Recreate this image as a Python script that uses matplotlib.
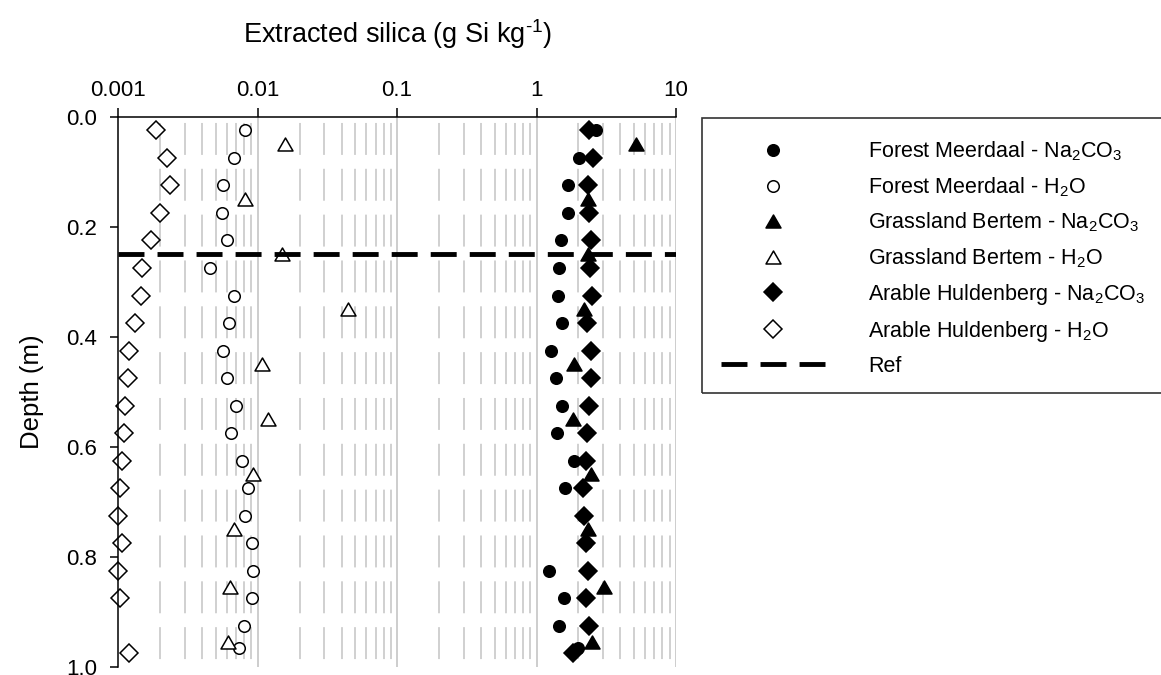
import matplotlib
matplotlib.use('Agg')
import matplotlib.pyplot as plt
from matplotlib.path import Path
from matplotlib.patches import Rectangle
from matplotlib.ticker import NullLocator

plt.rcParams['font.family'] = ['Liberation Sans', 'DejaVu Sans']
plt.rcParams['mathtext.fontset'] = 'custom'
plt.rcParams['mathtext.rm'] = 'Liberation Sans'
plt.rcParams['mathtext.it'] = 'Liberation Sans:italic'
plt.rcParams['mathtext.default'] = 'regular'
plt.rcParams['lines.scale_dashes'] = False

# ---------------- data ----------------
depth_forest = [0.025, 0.075, 0.125, 0.175, 0.225, 0.275, 0.325, 0.375, 0.425, 0.475,
                0.525, 0.575, 0.625, 0.675, 0.725, 0.775, 0.825, 0.875, 0.925, 0.965]
forest_na = [2.67, 2.03, 1.67, 1.67, 1.50, 1.44, 1.42, 1.52, 1.27, 1.38,
             1.52, 1.40, 1.87, 1.61, 2.15, 2.25, 1.22, 1.585, 1.46, 1.97]
forest_h2o = [0.0081, 0.00677, 0.00567, 0.00552, 0.0060, 0.00456, 0.0068, 0.00626, 0.00567, 0.00606,
              0.0070, 0.0064, 0.00776, 0.00848, 0.0081, 0.00915, 0.0093, 0.00915, 0.0080, 0.0074]

depth_grass = [0.05, 0.15, 0.25, 0.35, 0.45, 0.55, 0.65, 0.75, 0.855, 0.955]
grass_na = [5.16, 2.33, 2.33, 2.18, 1.87, 1.82, 2.46, 2.33, 3.03, 2.48]
grass_h2o = [0.0157, 0.0081, 0.0149, 0.0443, 0.0107, 0.0119, 0.0093, 0.0068, 0.00634, 0.00616]

depth_arable = [0.025, 0.075, 0.125, 0.175, 0.225, 0.275, 0.325, 0.375, 0.425, 0.475,
                0.525, 0.575, 0.625, 0.675, 0.725, 0.775, 0.825, 0.875, 0.925, 0.975]
arable_na = [2.39, 2.53, 2.33, 2.36, 2.46, 2.42, 2.50, 2.29, 2.46, 2.46,
             2.36, 2.29, 2.26, 2.14, 2.20, 2.26, 2.33, 2.26, 2.36, 1.84]
depth_arable_h2o = [0.025, 0.075, 0.125, 0.175, 0.225, 0.275, 0.325, 0.375, 0.425, 0.475,
                    0.525, 0.575, 0.625, 0.675, 0.725, 0.775, 0.825, 0.875, 0.975]
arable_h2o = [0.00187, 0.00225, 0.00236, 0.0020, 0.00171, 0.00148, 0.00145, 0.00131, 0.00119, 0.00117,
              0.00112, 0.0011, 0.00106, 0.00103, 0.0010, 0.00106, 0.00099, 0.00102, 0.0012]

ref_depth = 0.25

x_ticks = [0.001, 0.01, 0.1, 1, 10]
x_tick_labels = ['0.001', '0.01', '0.1', '1', '10']
y_ticks = [0.0, 0.2, 0.4, 0.6, 0.8, 1.0]
y_tick_labels = ['0.0', '0.2', '0.4', '0.6', '0.8', '1.0']

labels = ['Forest Meerdaal - Na$_2$CO$_3$', 'Forest Meerdaal - H$_2$O',
          'Grassland Bertem - Na$_2$CO$_3$', 'Grassland Bertem - H$_2$O',
          'Arable Huldenberg - Na$_2$CO$_3$', 'Arable Huldenberg - H$_2$O', 'Ref']

# ---------------- figure ----------------
fig = plt.figure(figsize=(11.61, 6.75), dpi=100)
ax = fig.add_axes([0.1019, 0.01185, 0.4803, 0.8153])
ax.set_xscale('log')
ax.set_xlim(0.001, 10)
ax.set_ylim(1.0, 0.0)

# grid lines
major_grid = [0.01, 0.1, 1, 10]
minor_grid = [k * 10.0 ** e for e in range(-3, 1) for k in range(2, 10)]
ax.vlines(major_grid, 0, 1, colors='#c0c0c0', lw=1.1, zorder=0)
ax.vlines(minor_grid, 0, 1, colors='#c4c4c4', lw=1.1, zorder=0,
          linestyles=[(28.7, (23.0, 10.0))])

tri = Path([(0, 0.433), (-0.5, -0.433), (0.5, -0.433), (0, 0.433)],
           [Path.MOVETO, Path.LINETO, Path.LINETO, Path.CLOSEPOLY])

common = dict(ls='none', mec='black', mew=1.1, clip_on=False, zorder=3)
h1, = ax.plot(forest_na, depth_forest, marker='o', ms=8.3, mfc='black', label=labels[0], **common)
h2, = ax.plot(forest_h2o, depth_forest, marker='o', ms=8.3, mfc='white', label=labels[1], **common)
h3, = ax.plot(grass_na, depth_grass, marker=tri, ms=10.8, mfc='black', label=labels[2], **common)
h4, = ax.plot(grass_h2o, depth_grass, marker=tri, ms=10.8, mfc='white', label=labels[3], **common)
h5, = ax.plot(arable_na, depth_arable, marker='D', ms=9.0, mfc='black', label=labels[4], **common)
h6, = ax.plot(arable_h2o, depth_arable_h2o, marker='D', ms=9.0, mfc='white', label=labels[5], **common)
h7 = ax.axhline(ref_depth, color='black', lw=3.5, ls=(0, (18.7, 9.4)), zorder=5, label=labels[6])

# axes styling
for s in ['right', 'bottom']:
    ax.spines[s].set_visible(False)
for s in ['top', 'left']:
    ax.spines[s].set_linewidth(1.1)
    ax.spines[s].set_zorder(6)

ax.xaxis.tick_top()
ax.xaxis.set_label_position('top')
ax.set_xticks(x_ticks)
ax.set_xticklabels(x_tick_labels)
ax.xaxis.set_minor_locator(NullLocator())
ax.set_yticks(y_ticks)
ax.set_yticklabels(y_tick_labels)
ax.tick_params(axis='x', direction='out', length=6.2, width=1.1, labelsize=16, pad=5)
ax.tick_params(axis='y', direction='out', length=5.8, width=1.1, labelsize=16, pad=9.5)

ax.set_xlabel('Extracted silica (g Si kg$^{\\text{-}1}$)', fontsize=19.5, labelpad=27)
ax.set_ylabel('Depth (m)', fontsize=18.5, labelpad=16)

# legend
leg = fig.legend([h1, h2, h3, h4, h5, h6, h7], labels, loc='upper left',
                 bbox_to_anchor=(720.7 / 1161, 1 - 139.5 / 675), frameon=False,
                 fontsize=15.5, handlelength=4.84, handletextpad=2.0,
                 labelspacing=0.556, borderpad=0, borderaxespad=0)
fig.patches.append(Rectangle((702 / 1161, 1 - 393 / 675), 468 / 1161, 275 / 675,
                             transform=fig.transFigure, fill=False,
                             edgecolor='#333333', lw=1.2))

fig.savefig('out.png', dpi=100)
